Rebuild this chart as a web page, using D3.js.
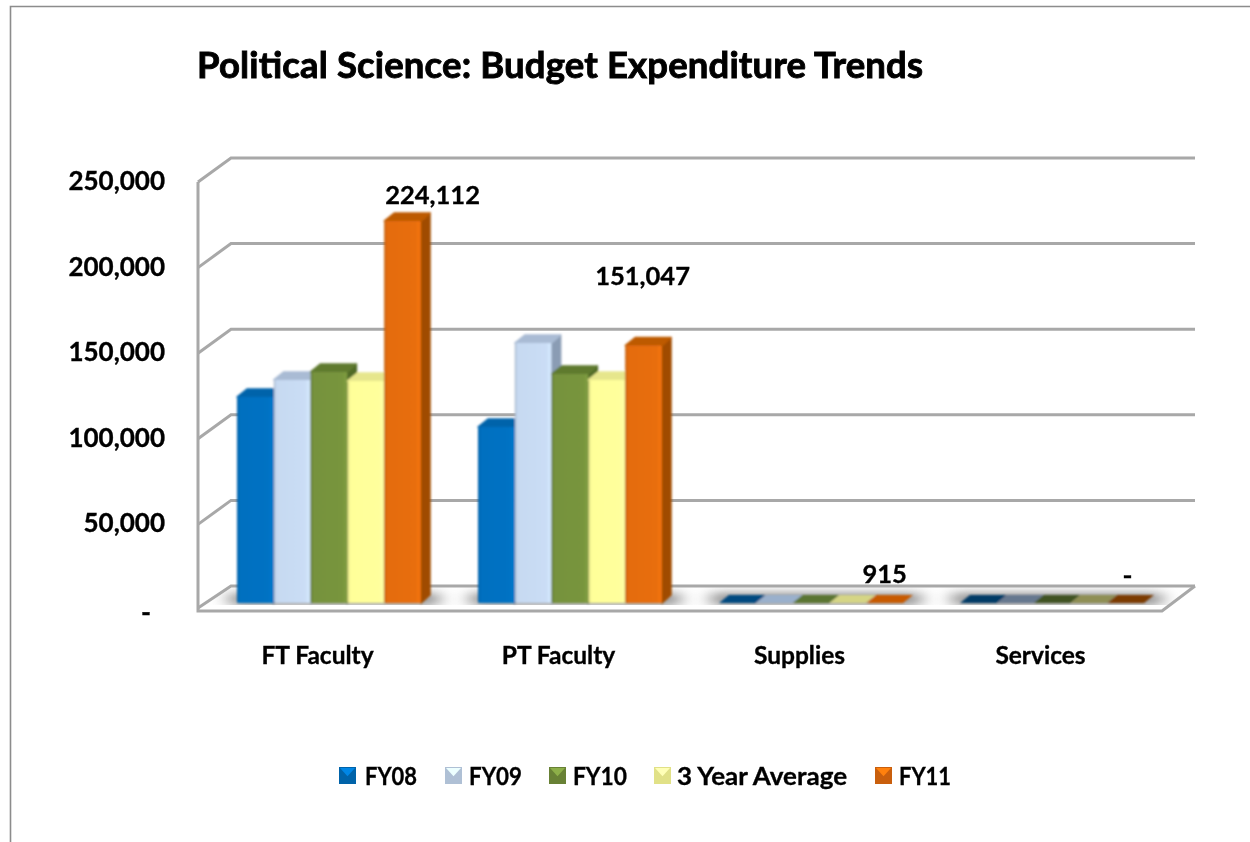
<!DOCTYPE html>
<html><head><meta charset="utf-8">
<script src="https://cdn.jsdelivr.net/npm/d3@7"></script>
<style>html,body{margin:0;padding:0;background:#fff;overflow:hidden}svg{display:block}text{font-family:Lato,Carlito,sans-serif;font-weight:700;fill:#000;stroke:#000;stroke-width:.35px}</style>
</head><body><svg id="c" width="1250" height="842"></svg>
<script>
const titleText = "Political Science: Budget Expenditure Trends";
const categories = ["FT Faculty","PT Faculty","Supplies","Services"];
const seriesNames = ["FY08","FY09","FY10","3 Year Average","FY11"];
const fy08 = [120900,103300,700,0];
const fy09 = [130900,152600,650,0];
const fy10 = [135600,134400,800,0];
const avg3 = [130300,130900,720,0];
const fy11 = [224112,151047,915,0];
const tickValues = [0,50000,100000,150000,200000,250000];
const tickLabels = ["-","50,000","100,000","150,000","200,000","250,000"];
const dataLabels = ["224,112","151,047","915","-"];
const seriesValues = [fy08,fy09,fy10,avg3,fy11];

const front = ["#0070c0","#c6d9f1","#76923c","#ffff99","#e46c0a"];
const topCol = ["#0063aa","#a9bbd4","#5f7a2f","#e6e68c","#bd5a05"];
const sideCol = ["#004b80","#8a9cb4","#506a26","#c4c478","#a04c02"];
const flatCol = ["#004a80","#9ab0cc","#5a7530","#d5d585","#c85a05"];
const zeroCol = ["#003a66","#66788f","#3f5220","#8f8f55","#7c3a05"];

const svg = d3.select("#c");
const defs = svg.append("defs");
defs.append("filter").attr("id","soft").append("feGaussianBlur").attr("stdDeviation",0.9);
defs.append("filter").attr("id","txt").append("feGaussianBlur").attr("stdDeviation",0.45);
defs.append("filter").attr("id","ln").append("feGaussianBlur").attr("stdDeviation",0.6);
const sh = defs.append("filter").attr("id","shadow").attr("x","-10%").attr("width","120%").attr("y","-80%").attr("height","260%");
sh.append("feGaussianBlur").attr("stdDeviation","9 5");
front.forEach((c,i)=>{
  const g = defs.append("linearGradient").attr("id","g"+i);
  const col = d3.color(c);
  [[0,col.darker(0.5)],[0.07,col],[0.85,col.brighter(0.05)],[0.97,col.brighter(0.2)],[1,col.darker(0.2)]]
    .forEach(([o,k])=>g.append("stop").attr("offset",o).attr("stop-color",k));
});

const L=198,R=1162,D=33,Dy=24,baseFront=610;
const y = d3.scaleLinear().domain([0,250000]).range([610,182]);
const barY = d3.scaleLinear().domain([0,250000]).range([603,177]);
const x0 = d3.scaleBand().domain(categories).range([L,R]);
const x1 = d3.scaleBand().domain(seriesNames).range([39,223]);
const dx=10, dy=8;

defs.append("clipPath").attr("id","floor").append("path")
  .attr("d",`M${L+6},${y(0)-5}L${L+D},${y(0)-Dy}H${R+D}L${R+6},${y(0)-5}Z`);

// frame
svg.append("path").attr("d","M10.5,842V6.5H1250").attr("fill","none").attr("stroke","#8c8c8c").attr("stroke-width",1.6);

// floor shadow
const shadow = svg.append("g").attr("clip-path","url(#floor)").append("g").attr("filter","url(#shadow)");
categories.forEach(c=>{
  shadow.append("rect").attr("x",x0(c)+x1.range()[0]-8).attr("width",x1.range()[1]-x1.range()[0]+26)
    .attr("y",y(0)-17).attr("height",12).attr("fill","#8a8a8a");
});

// gridlines
const grid = svg.append("g").attr("fill","none").attr("stroke","#a8a8a8").attr("stroke-width",3).attr("filter","url(#ln)");
tickValues.forEach(t=>{
  grid.append("path").attr("d",`M${L},${y(t)-(t===0?2:0)}L${L+D},${y(t)-Dy}H${R+D}`);
});
grid.append("path").attr("d",`M${L},${y(250000)}V${baseFront+1}H${R}L${R+D},${y(0)-Dy}`);

// bars
const barsG = svg.append("g").attr("filter","url(#soft)");
categories.forEach((c,ci)=>{
  seriesNames.forEach((s,si)=>{
    const v = seriesValues[si][ci];
    const x = x0(c)+x1(s), w = x1.bandwidth(), b = barY(0), t = barY(v);
    const g = barsG.append("g").attr("stroke-linejoin","round");
    if(b-t < 4){
      const col = v===0 ? zeroCol[si] : flatCol[si];
      g.append("path").attr("d",`M${x},${b}L${x+dx},${b-dy}H${x+w+dx}L${x+w},${b}Z`).attr("fill",col);
      return;
    }
    g.append("path").attr("d",`M${x+w},${b}V${t}L${x+w+dx-1},${t-dy}V${b-dy}Z`).attr("fill",sideCol[si]).attr("stroke",sideCol[si]).attr("stroke-width",1.5);
    g.append("path").attr("d",`M${x},${t}L${x+dx},${t-dy}H${x+w+dx-1}L${x+w},${t}Z`).attr("fill",topCol[si]).attr("stroke",topCol[si]).attr("stroke-width",1.5);
    g.append("rect").attr("x",x).attr("y",t).attr("width",w).attr("height",b-t).attr("rx",1.5).attr("fill",`url(#g${si})`);
  });
});

const texts = svg.append("g").attr("filter","url(#txt)");
// title
texts.append("text").attr("x",197).attr("y",78).attr("font-size",36.5).style("stroke-width","0.9px")
  .attr("textLength",726).attr("lengthAdjust","spacing").text(titleText);
// y ticks
tickValues.forEach((t,i)=>{
  const tx = texts.append("text").attr("font-size",26).text(tickLabels[i]);
  if(t===0) tx.attr("x",146).attr("y",y(t)+12).attr("text-anchor","middle").attr("textLength",10).attr("lengthAdjust","spacingAndGlyphs");
  else tx.attr("x",165).attr("y",y(t)+8).attr("text-anchor","end");
});
// categories
categories.forEach(c=>{
  texts.append("text").attr("x",x0(c)+x0.bandwidth()/2-1).attr("y",664).attr("font-size",24.5).attr("text-anchor","middle").text(c);
});
// data labels (sit off their bars as in the source chart)
const labelX = [30,-1,0,2], labelY = [-17,-61,-18,-19];
categories.forEach((c,ci)=>{
  const cx = x0(c)+x1("FY11")+x1.bandwidth()/2;
  const t = texts.append("text").attr("x",cx+labelX[ci]).attr("y",barY(fy11[ci])+labelY[ci]).attr("font-size",25.5).attr("text-anchor","middle").text(dataLabels[ci]);
  if(dataLabels[ci]==="-") t.attr("textLength",10).attr("lengthAdjust","spacingAndGlyphs");
});
// legend
const legendX = d3.scaleOrdinal().domain(seriesNames).range([339,445,549,654,875]);
const legendText = [365,469,573,677,899], legendW = [52,53,54,170,52];
seriesNames.forEach((s,i)=>{
  const lx = legendX(s), ly=767, sz=17;
  const col = d3.color(front[i]);
  const g = svg.append("g").attr("filter","url(#txt)");
  g.append("rect").attr("x",lx).attr("y",ly).attr("width",sz).attr("height",sz).attr("fill",col.darker(0.35));
  g.append("path").attr("d",`M${lx+1},${ly+1}H${lx+sz-1}L${lx+sz/2},${ly+sz*0.55}Z`).attr("fill",col.brighter(0.5));
  g.append("text").attr("x",legendText[i]).attr("y",785).attr("font-size",25).attr("textLength",legendW[i]).attr("lengthAdjust","spacingAndGlyphs").text(s);
});
</script></body></html>
